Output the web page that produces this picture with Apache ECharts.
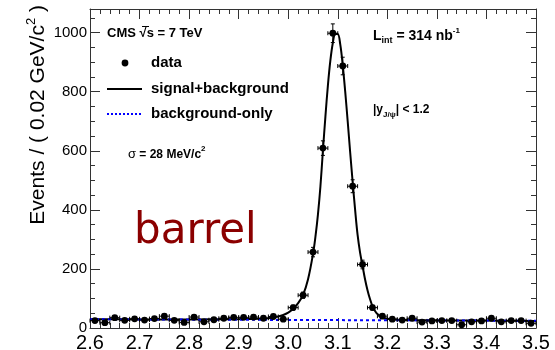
<!DOCTYPE html>
<html>
<head>
<meta charset="utf-8">
<script src="https://cdn.jsdelivr.net/npm/echarts@6/dist/echarts.min.js"></script>
<style>
  html, body { margin: 0; padding: 0; background: #fff; }
  #chart { width: 555px; height: 350px; }
</style>
</head>
<body>
<div id="chart"></div>
<script>
// Dimuon invariant mass, barrel region: binned data (bin centres, GeV/c^2)
const binWidth = 0.02;
const massBins = [
  2.61, 2.63, 2.65, 2.67, 2.69, 2.71, 2.73, 2.75, 2.77, 2.79,
  2.81, 2.83, 2.85, 2.87, 2.89, 2.91, 2.93, 2.95, 2.97, 2.99,
  3.01, 3.03, 3.05, 3.07, 3.09, 3.11, 3.13, 3.15, 3.17, 3.19,
  3.21, 3.23, 3.25, 3.27, 3.29, 3.31, 3.33, 3.35, 3.37, 3.39,
  3.41, 3.43, 3.45, 3.47, 3.49
];
const eventCounts = [
  25, 18, 35, 26, 31, 27, 32, 40, 26, 19,
  37, 21, 28, 33, 36, 36, 37, 33, 39, 30,
  69, 111, 257, 609, 998, 887, 480, 215, 69, 40,
  30, 27, 33, 20, 24, 25, 25, 11, 21, 24,
  33, 21, 25, 25, 16
];

// Fitted signal+background curve
const fitMass = [
  2.60, 2.70, 2.80, 2.90, 2.94, 2.96, 2.98, 2.99, 3.00, 3.01,
  3.02, 3.03, 3.04, 3.05, 3.055, 3.06, 3.065, 3.07, 3.075, 3.08,
  3.085, 3.09, 3.095, 3.10, 3.105, 3.11, 3.115, 3.12, 3.125, 3.13,
  3.135, 3.14, 3.145, 3.15, 3.155, 3.16, 3.165, 3.17, 3.175, 3.18,
  3.19, 3.20, 3.22, 3.30, 3.40, 3.50
];
const fitTotal = [
  30, 29, 29, 30, 31, 33, 39, 44, 52, 65,
  84, 112, 165, 250, 310, 385, 480, 600, 715, 820,
  905, 965, 995, 995, 960, 890, 800, 700, 595, 495,
  400, 315, 255, 210, 165, 128, 98, 74, 58, 47,
  36, 31, 28, 26, 25, 24
];

// Background-only component
const bkgMass = [2.60, 3.50];
const bkgValues = [29.5, 24.5];

// Axis ranges and ticks
const xMin = 2.6, xMax = 3.5, xStep = 0.1;
const yMin = 0, yMax = 1080, yStep = 200, yMinorStep = 50;

const FONT = '"Liberation Sans", Arial, Helvetica, sans-serif';
const frameColor = '#333';

const chart = echarts.init(document.getElementById('chart'), null, { renderer: 'canvas' });

function xAxisDef(pos, showLabel) {
  return {
    type: 'value', position: pos, min: xMin, max: xMax, interval: xStep,
    axisLine: { show: true, onZero: false, lineStyle: { color: frameColor, width: 1 } },
    axisTick: { show: true, inside: true, length: 10, lineStyle: { color: frameColor } },
    minorTick: { show: true, splitNumber: 5, length: 5, lineStyle: { color: frameColor } },
    splitLine: { show: false },
    axisLabel: {
      show: showLabel, margin: 5, color: '#000', fontFamily: FONT, fontSize: 20,
      formatter: v => v.toFixed(1)
    }
  };
}
function yAxisDef(pos, step, tickLen, showLabel, showLine) {
  return {
    type: 'value', position: pos, min: yMin, max: yMax, interval: step,
    axisLine: { show: showLine, onZero: false, lineStyle: { color: frameColor, width: 1 } },
    axisTick: { show: true, inside: true, length: tickLen, lineStyle: { color: frameColor } },
    splitLine: { show: false },
    axisLabel: {
      show: showLabel, margin: 3, color: '#000', fontFamily: FONT, fontSize: 15,
      showMaxLabel: false, formatter: v => String(v)
    }
  };
}

const pointData = massBins.map((m, i) => [m, eventCounts[i]]);
const fitData = fitMass.map((m, i) => [m, fitTotal[i]]);
const bkgData = bkgMass.map((m, i) => [m, bkgValues[i]]);

function renderPoint(params, api) {
  const m = api.value(0), n = api.value(1);
  const err = Math.sqrt(n);
  const c = api.coord([m, n]);
  const l = api.coord([m - binWidth / 2, n]);
  const r = api.coord([m + binWidth / 2, n]);
  const t = api.coord([m, n + err]);
  const b = api.coord([m, n - err]);
  const cap = 2;
  const ls = { stroke: '#000', lineWidth: 1 };
  return {
    type: 'group',
    children: [
      { type: 'line', shape: { x1: l[0], y1: c[1], x2: r[0], y2: c[1] }, style: ls },
      { type: 'line', shape: { x1: l[0], y1: c[1] - cap, x2: l[0], y2: c[1] + cap }, style: ls },
      { type: 'line', shape: { x1: r[0], y1: c[1] - cap, x2: r[0], y2: c[1] + cap }, style: ls },
      { type: 'line', shape: { x1: c[0], y1: t[1], x2: c[0], y2: b[1] }, style: ls },
      { type: 'line', shape: { x1: c[0] - cap, y1: t[1], x2: c[0] + cap, y2: t[1] }, style: ls },
      { type: 'line', shape: { x1: c[0] - cap, y1: b[1], x2: c[0] + cap, y2: b[1] }, style: ls },
      { type: 'circle', shape: { cx: c[0], cy: c[1], r: 3.4 }, style: { fill: '#000' } }
    ]
  };
}

const boldText = { fontFamily: FONT, fontWeight: 'bold', fill: '#000' };

chart.setOption({
  animation: false,
  backgroundColor: '#fff',
  grid: { left: 90, right: 19, top: 9, bottom: 22, show: false, containLabel: false, outerBoundsMode: 'none' },
  xAxis: [xAxisDef('bottom', true), xAxisDef('top', false)],
  yAxis: [
    yAxisDef('left', yStep, 10, true, true),
    yAxisDef('left', yMinorStep, 5, false, false),
    yAxisDef('right', yStep, 10, false, true),
    yAxisDef('right', yMinorStep, 5, false, false)
  ],
  series: [
    {
      type: 'line', name: 'signal+background', data: fitData, smooth: 0.35,
      showSymbol: false, lineStyle: { color: '#000', width: 2 }, z: 3
    },
    {
      type: 'line', name: 'background-only', data: bkgData, showSymbol: false,
      lineStyle: { color: '#0000ff', width: 2, type: [3, 3] }, z: 4
    },
    {
      type: 'custom', name: 'data', data: pointData, renderItem: renderPoint, z: 5
    }
  ],
  graphic: [
    // y axis title
    {
      type: 'text', x: 37, y: 5, rotation: Math.PI / 2,
      style: {
        text: '{t|Events / ( 0.02 GeV/c}{s|2}{t| )}',
        align: 'right', verticalAlign: 'middle',
        rich: {
          t: { fontFamily: FONT, fontSize: 21, fill: '#000', lineHeight: 24, verticalAlign: 'bottom' },
          s: { fontFamily: FONT, fontSize: 13, fill: '#000', lineHeight: 24, verticalAlign: 'top' }
        }
      }
    },
    // experiment label
    {
      type: 'text', x: 107, y: 33,
      style: Object.assign({ text: 'CMS √s = 7 TeV', fontSize: 13, verticalAlign: 'middle' }, boldText)
    },
    { type: 'line', shape: { x1: 142, y1: 26.5, x2: 149, y2: 26.5 }, style: { stroke: '#000', lineWidth: 1 } },
    // legend
    { type: 'circle', shape: { cx: 125, cy: 63, r: 3.4 }, style: { fill: '#000' } },
    { type: 'text', x: 151, y: 63, style: Object.assign({ text: 'data', fontSize: 15, verticalAlign: 'middle' }, boldText) },
    { type: 'line', shape: { x1: 107, y1: 89, x2: 142, y2: 89 }, style: { stroke: '#000', lineWidth: 2 } },
    { type: 'text', x: 151, y: 89, style: Object.assign({ text: 'signal+background', fontSize: 15, verticalAlign: 'middle' }, boldText) },
    { type: 'line', shape: { x1: 107, y1: 114, x2: 142, y2: 114 }, style: { stroke: '#0000ff', lineWidth: 2, lineDash: [2, 2] } },
    { type: 'text', x: 151, y: 114, style: Object.assign({ text: 'background-only', fontSize: 15, verticalAlign: 'middle' }, boldText) },
    // resolution
    {
      type: 'text', x: 128, y: 153,
      style: {
        text: '{g|σ}{b| = 28 MeV/c}{s|2}', verticalAlign: 'middle',
        rich: {
          g: { fontFamily: FONT, fontSize: 13, fill: '#000', lineHeight: 16, verticalAlign: 'bottom' },
          b: { fontFamily: FONT, fontWeight: 'bold', fontSize: 12, fill: '#000', lineHeight: 16, verticalAlign: 'bottom' },
          s: { fontFamily: FONT, fontWeight: 'bold', fontSize: 8, fill: '#000', lineHeight: 16, verticalAlign: 'top' }
        }
      }
    },
    // luminosity
    {
      type: 'text', x: 373, y: 36,
      style: {
        text: '{b|L}{u|int}{b| = 314 nb}{p|-1}', verticalAlign: 'middle',
        rich: {
          b: { fontFamily: FONT, fontWeight: 'bold', fontSize: 14, fill: '#000', lineHeight: 18, verticalAlign: 'middle' },
          u: { fontFamily: FONT, fontWeight: 'bold', fontSize: 9, fill: '#000', lineHeight: 18, verticalAlign: 'bottom' },
          p: { fontFamily: FONT, fontWeight: 'bold', fontSize: 8, fill: '#000', lineHeight: 18, verticalAlign: 'top' }
        }
      }
    },
    // rapidity cut
    {
      type: 'text', x: 373, y: 110,
      style: {
        text: '{b||y}{u|J/ψ}{b|| < 1.2}', verticalAlign: 'middle',
        rich: {
          b: { fontFamily: FONT, fontWeight: 'bold', fontSize: 12, fill: '#000', lineHeight: 18, verticalAlign: 'middle' },
          u: { fontFamily: FONT, fontWeight: 'bold', fontSize: 8, fill: '#000', lineHeight: 18, verticalAlign: 'bottom' }
        }
      }
    },
    // region label
    {
      type: 'text', x: 134, y: 232,
      style: { text: 'barrel', fontFamily: '"DejaVu Sans", sans-serif', fontSize: 42, fill: '#8b0000', verticalAlign: 'middle' }
    }
  ]
});
</script>
</body>
</html>
